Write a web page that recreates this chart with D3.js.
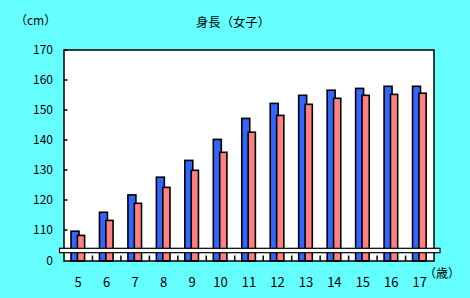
<!DOCTYPE html>
<html>
<head>
<meta charset="utf-8">
<script src="https://cdn.jsdelivr.net/npm/d3@7"></script>
<style>
  html, body { margin: 0; padding: 0; background: #66FFFF; }
  svg { display: block; }
  text { font-family: "Noto Sans CJK JP", "DejaVu Sans", sans-serif; fill: #000; }
</style>
</head>
<body>
<svg id="chart" width="470" height="298"></svg>
<script>
const categories = ["5","6","7","8","9","10","11","12","13","14","15","16","17"];
const seriesBlue = [109.6, 115.9, 121.7, 127.6, 133.2, 140.2, 147.2, 152.2, 154.9, 156.6, 157.2, 157.9, 157.9];
const seriesPink = [108.2, 113.2, 118.9, 124.2, 129.9, 135.9, 142.6, 148.2, 151.9, 153.9, 154.9, 155.2, 155.6];
const yTicks = [110, 120, 130, 140, 150, 160, 170];
const yBaseLabel = "0";
const title = "身長（女子）";
const yUnit = "（cm）";
const xUnit = "（歳）";

(function () {
const svg = d3.select("#chart");
const pL = 64, pR = 434, pT = 50, pB = 261;
const breakTop = 248.3, breakBottom = 252.7;

const x = d3.scaleBand().domain(categories).range([pL, pR]).padding(0);
const y = d3.scaleLinear().domain([100, 170]).range([260, pT]);
const bw = x.bandwidth();

svg.append("rect").attr("x", pL).attr("y", pT).attr("width", pR - pL).attr("height", pB - pT)
  .attr("fill", "#fff");

const barsG = svg.append("g");
const blueOff = 0.246 * bw, pinkOff = 0.471 * bw, barW = 0.28 * bw, pinkW = 0.253 * bw;

barsG.selectAll(".b").data(categories).enter().append("rect")
  .attr("x", d => x(d) + blueOff)
  .attr("y", (d, i) => y(seriesBlue[i]))
  .attr("width", barW)
  .attr("height", (d, i) => pB - y(seriesBlue[i]))
  .attr("fill", "#3366FF").attr("stroke", "#000").attr("stroke-width", 1.6);

barsG.selectAll(".p").data(categories).enter().append("rect")
  .attr("x", d => x(d) + pinkOff)
  .attr("y", (d, i) => y(seriesPink[i]))
  .attr("width", pinkW)
  .attr("height", (d, i) => pB - y(seriesPink[i]))
  .attr("fill", "#FF8080").attr("stroke", "#000").attr("stroke-width", 1.6);

svg.append("rect").attr("x", pL).attr("y", pT).attr("width", pR - pL).attr("height", pB - pT)
  .attr("fill", "none").attr("stroke", "#000").attr("stroke-width", 1.5);

svg.append("g").selectAll("line").data(yTicks).enter().append("line")
  .attr("x1", pL).attr("x2", pL + 3.5)
  .attr("y1", d => y(d)).attr("y2", d => y(d))
  .attr("stroke", "#000").attr("stroke-width", 1.5);

svg.append("g").selectAll("line").data(categories.slice(1)).enter().append("line")
  .attr("x1", d => x(d)).attr("x2", d => x(d))
  .attr("y1", pB).attr("y2", pB - 5.5)
  .attr("stroke", "#000").attr("stroke-width", 1.5);

svg.append("rect").attr("x", 59.5).attr("y", breakTop).attr("width", 440 - 59.5).attr("height", breakBottom - breakTop)
  .attr("fill", "#fff").attr("stroke", "#000").attr("stroke-width", 1.2);

svg.append("g").selectAll("text").data(yTicks).enter().append("text")
  .attr("x", 53).attr("y", d => y(d)).attr("dy", "0.35em")
  .attr("text-anchor", "end").attr("font-size", 12).text(d => d);
svg.append("text").attr("x", 53).attr("y", pB).attr("dy", "0.35em")
  .attr("text-anchor", "end").attr("font-size", 12).text(yBaseLabel);

svg.append("g").selectAll("text").data(categories).enter().append("text")
  .attr("x", d => x(d) + bw / 2).attr("y", 287)
  .attr("text-anchor", "middle").attr("font-size", 13).text(d => d);

svg.append("text").attr("x", 196).attr("y", 26.5).attr("font-size", 12)
  .attr("textLength", 74).attr("lengthAdjust", "spacingAndGlyphs").text(title);
svg.append("text").attr("x", 15).attr("y", 24.5).attr("font-size", 12).text(yUnit);
svg.append("text").attr("x", 424).attr("y", 277.5).attr("font-size", 12).text(xUnit);
})();
</script>
</body>
</html>
